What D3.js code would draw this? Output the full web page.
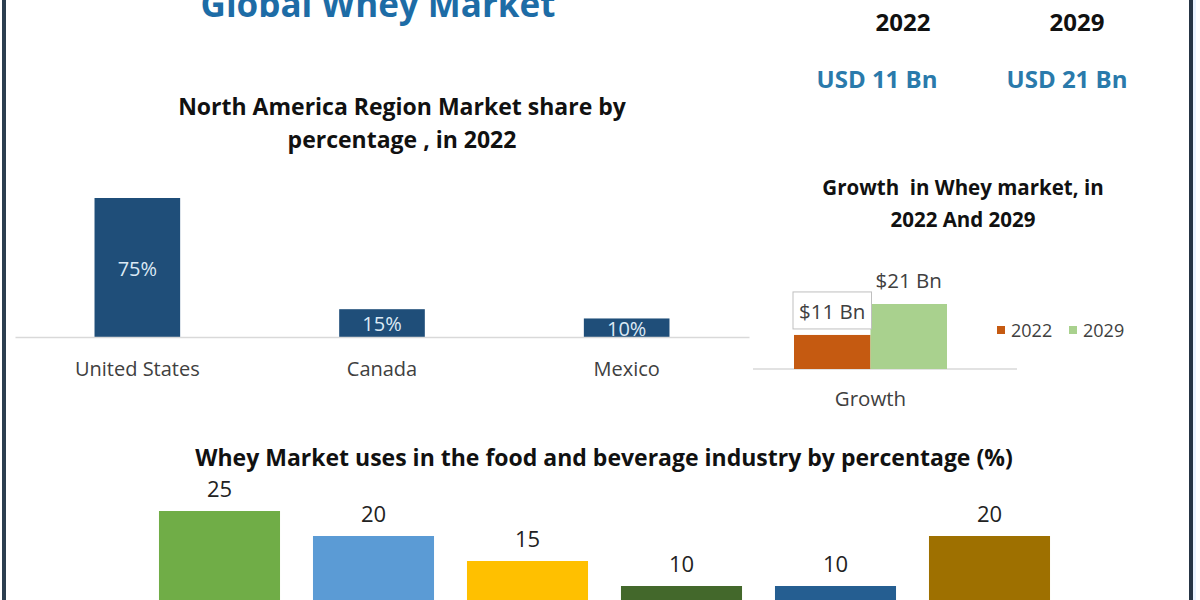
<!DOCTYPE html>
<html>
<head>
<meta charset="utf-8">
<script src="https://cdn.jsdelivr.net/npm/d3@7"></script>
<style>
  html, body { margin: 0; padding: 0; background: #ffffff; }
  svg { display: block; font-family: "Open Sans", "Noto Sans", sans-serif; }
</style>
</head>
<body>
<svg id="chart" width="1200" height="600"></svg>
<script>
// ---------- data ----------
const mainTitle = "Global Whey Market";
const headerYears = ["2022", "2029"];
const headerValues = ["USD 11 Bn", "USD 21 Bn"];

const naTitle = ["North America Region Market share by", "percentage , in 2022"];
const naCategories = ["United States", "Canada", "Mexico"];
const naShare = [75, 15, 10];

const growthTitle = ["Growth  in Whey market, in", "2022 And 2029"];
const growthCategories = ["Growth"];
const growthSeries = ["2022", "2029"];
const growthValues = [11, 21];
const growthLabels = ["$11 Bn", "$21 Bn"];

const usesTitle = "Whey Market uses in the food and beverage industry by percentage (%)";
const usesCategories = ["u1", "u2", "u3", "u4", "u5", "u6"];
const usesValues = [25, 20, 15, 10, 10, 20];

// ---------- styles ----------
const naColor = "#1f4e79";
const growthColors = ["#c55a11", "#a9d18e"];
const usesColors = ["#70ad47", "#5b9bd5", "#ffc000", "#43682b", "#255e91", "#9e7000"];
const axisGray = "#d9d9d9";
const labelGray = "#404040";

const svg = d3.select("#chart");
svg.append("rect").attr("width", 1200).attr("height", 600).attr("fill", "#ffffff");

// frame lines
svg.append("rect").attr("x", 2).attr("y", 0).attr("width", 4).attr("height", 600).attr("fill", "#2c3e50");
svg.append("rect").attr("x", 1189).attr("y", 0).attr("width", 4).attr("height", 600).attr("fill", "#263545");
svg.append("rect").attr("x", 1193).attr("y", 0).attr("width", 3).attr("height", 600).attr("fill", "#eaf3ff");

// ---------- header ----------
svg.append("text").attr("x", 378).attr("y", 17)
  .attr("text-anchor", "middle").attr("font-size", 35).attr("font-weight", 700)
  .attr("fill", "#1d6ca6").text(mainTitle);

const headerX = d3.scalePoint().domain(headerYears).range([903, 1077]);
svg.selectAll("text.hyear").data(headerYears).join("text").attr("class", "hyear")
  .attr("x", d => headerX(d)).attr("y", 31)
  .attr("text-anchor", "middle").attr("font-size", 24).attr("font-weight", 700)
  .attr("fill", "#111").text(d => d);
const headerValX = d3.scalePoint().domain(headerYears).range([877, 1067]);
svg.selectAll("text.hval").data(headerValues).join("text").attr("class", "hval")
  .attr("x", (d, i) => headerValX(headerYears[i])).attr("y", 88)
  .attr("text-anchor", "middle").attr("font-size", 24).attr("font-weight", 700)
  .attr("fill", "#2a7aab").text(d => d);

// ---------- North America chart ----------
svg.selectAll("text.natitle").data(naTitle).join("text").attr("class", "natitle")
  .attr("x", 402).attr("y", (d, i) => 115 + i * 33)
  .attr("text-anchor", "middle").attr("font-size", 23).attr("font-weight", 700)
  .attr("fill", "#111").text(d => d);

const naX = d3.scaleBand().domain(naCategories).range([15, 749]).paddingInner(0.65).paddingOuter(0.325);
const naY = d3.scaleLinear().domain([0, 75]).range([337, 198]);

svg.selectAll("rect.na").data(naShare).join("rect").attr("class", "na")
  .attr("x", (d, i) => naX(naCategories[i])).attr("width", naX.bandwidth())
  .attr("y", d => naY(d)).attr("height", d => naY(0) - naY(d)).attr("fill", naColor);

const naAxis = svg.append("g").attr("transform", `translate(0,${naY(0)})`)
  .call(d3.axisBottom(naX).tickSize(0).tickPadding(25));
naAxis.select(".domain").attr("stroke", axisGray).attr("stroke-width", 1.5);
naAxis.selectAll("text").attr("font-size", 20).attr("fill", labelGray)
  .attr("font-family", "'Open Sans', sans-serif");

svg.selectAll("text.nav").data(naShare).join("text").attr("class", "nav")
  .attr("x", (d, i) => naX(naCategories[i]) + naX.bandwidth() / 2)
  .attr("y", d => (naY(d) + naY(0)) / 2 + 8)
  .attr("text-anchor", "middle").attr("font-size", 20)
  .attr("fill", "#dce9f5").text(d => d + "%");

// ---------- Growth chart ----------
svg.selectAll("text.gtitle").data(growthTitle).join("text").attr("class", "gtitle")
  .attr("x", 963).attr("y", (d, i) => 195 + i * 32)
  .attr("text-anchor", "middle").attr("font-size", 20.5).attr("font-weight", 700)
  .attr("fill", "#111").attr("xml:space", "preserve").text(d => d);

const gX0 = d3.scaleBand().domain(growthCategories).range([753, 988]).paddingInner(0).paddingOuter(0.268);
const gX1 = d3.scaleBand().domain(growthSeries).range([0, gX0.bandwidth()]).padding(0);
const gY = d3.scaleLinear().domain([0, 21]).range([369, 304]);

svg.append("line").attr("x1", 753).attr("x2", 1017).attr("y1", gY(0)).attr("y2", gY(0))
  .attr("stroke", axisGray).attr("stroke-width", 1.5);

const gBars = svg.append("g").attr("transform", `translate(${gX0("Growth")},0)`);
gBars.selectAll("rect").data(growthValues).join("rect")
  .attr("x", (d, i) => gX1(growthSeries[i])).attr("width", gX1.bandwidth())
  .attr("y", d => gY(d)).attr("height", d => gY(0) - gY(d))
  .attr("fill", (d, i) => growthColors[i]);

// label box for first series
gBars.append("rect")
  .attr("x", gX1(growthSeries[0]) - 1).attr("width", gX1.bandwidth() + 2)
  .attr("y", gY(growthValues[0]) - 43).attr("height", 37)
  .attr("fill", "#ffffff").attr("stroke", "#bfbfbf").attr("stroke-width", 1);
gBars.selectAll("text.gv").data(growthLabels).join("text").attr("class", "gv")
  .attr("x", (d, i) => gX1(growthSeries[i]) + gX1.bandwidth() / 2)
  .attr("y", (d, i) => gY(growthValues[i]) - 16)
  .attr("text-anchor", "middle").attr("font-size", 20.5)
  .attr("fill", labelGray).text(d => d);

svg.append("text").attr("x", gX0("Growth") + gX0.bandwidth() / 2).attr("y", 406)
  .attr("text-anchor", "middle").attr("font-size", 20.5).attr("fill", labelGray).text(growthCategories[0]);

// legend
const legX = d3.scalePoint().domain(growthSeries).range([997, 1069]);
const leg = svg.selectAll("g.leg").data(growthSeries).join("g").attr("class", "leg")
  .attr("transform", d => `translate(${legX(d)},330)`);
leg.append("rect").attr("x", 0).attr("y", -4).attr("width", 8).attr("height", 8)
  .attr("fill", (d, i) => growthColors[i]);
leg.append("text").attr("x", 14).attr("y", 6.5).attr("font-size", 18)
  .attr("fill", labelGray).text(d => d);

// ---------- Uses chart ----------
svg.append("text").attr("x", 604).attr("y", 466)
  .attr("text-anchor", "middle").attr("font-size", 23).attr("font-weight", 700)
  .attr("fill", "#111").text(usesTitle);

const uX = d3.scaleBand().domain(usesCategories).range([142.5, 1066.5]).paddingInner(0.214).paddingOuter(0.107);
const uY = d3.scaleLinear().domain([0, 25]).range([636, 511]);

svg.selectAll("rect.u").data(usesValues).join("rect").attr("class", "u")
  .attr("x", (d, i) => uX(usesCategories[i])).attr("width", uX.bandwidth())
  .attr("y", d => uY(d)).attr("height", d => uY(0) - uY(d))
  .attr("fill", (d, i) => usesColors[i]);

svg.selectAll("text.uv").data(usesValues).join("text").attr("class", "uv")
  .attr("x", (d, i) => uX(usesCategories[i]) + uX.bandwidth() / 2)
  .attr("y", d => uY(d) - 14)
  .attr("text-anchor", "middle").attr("font-size", 22)
  .attr("fill", "#222").text(d => d);
</script>
</body>
</html>
